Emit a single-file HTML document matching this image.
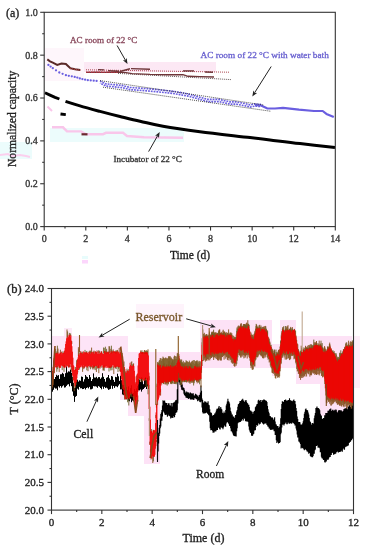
<!DOCTYPE html>
<html><head><meta charset="utf-8"><style>
html,body{margin:0;padding:0;background:#fff;}
svg{display:block;font-family:"Liberation Serif",serif;will-change:transform;}
</style></head><body>
<svg width="365" height="550" viewBox="0 0 365 550">
<rect x="45" y="48" width="39" height="33" fill="#fef6fb"/>
<rect x="84" y="62" width="132" height="10" fill="#fce8f4"/>
<rect x="50" y="128" width="134" height="14" fill="#ecfcfc"/>
<rect x="0" y="142" width="32" height="17" fill="#ecfcfc"/>
<polyline points="0,155 8,154 12,156 20,155 26,156 30,157" fill="none" stroke="#fbd0ee" stroke-width="2"/>
<polyline points="52,127.3 63,127.3 67,131.4 81,131.4 86,134.2 103,134.2 106,132.8 123,132.8 127,136 144,137.3 183,137.7" fill="none" stroke="#f9c6ea" stroke-width="2.4"/>
<rect x="82" y="256" width="6" height="3" fill="#e8fcfc"/><rect x="82" y="260" width="6" height="3.5" fill="#fcd6fc"/>
<line x1="47.5" y1="106.5" x2="52" y2="111" stroke="#f9c6ea" stroke-width="2"/>
<line x1="81.5" y1="134.3" x2="87.5" y2="134.3" stroke="#6a2a30" stroke-width="2.2"/>
<polyline points="47.3,59.4 50,61.4 52.8,62.7 57.2,64.9 61.5,63.6 65.9,64.0 68,66 70.3,68.2 75,69.2 80.2,69.9" fill="none" stroke="#5a2a28" stroke-width="2"/>
<polyline points="70,68.6 80.5,70.2" fill="none" stroke="#b03a3a" stroke-width="1.2" stroke-dasharray="1 1"/>
<line x1="86" y1="69.8" x2="229" y2="72.2" stroke="#a0303a" stroke-width="0.9" stroke-dasharray="1 1"/>
<line x1="118" y1="73.4" x2="231" y2="79.6" stroke="#3a2a2a" stroke-width="0.8" stroke-dasharray="1 1"/>
<polyline points="86,72.4 96,72.2 104,72.4 118,72.0 126,72.6 132,73.6 150,74.4 168,74.8 183,74.6 188,76.3 200,76.6 214,77.0" fill="none" stroke="#6e3538" stroke-width="1.4"/>
<polyline points="86,72.2 118,72.0" fill="none" stroke="#c03040" stroke-width="1.3" stroke-dasharray="1.5 1"/>
<line x1="98" y1="69.6" x2="104" y2="69.9" stroke="#6e3538" stroke-width="1.4"/>
<line x1="108" y1="70.6" x2="119" y2="71.2" stroke="#6e3538" stroke-width="1.4"/>
<line x1="120" y1="71.5" x2="130" y2="68.8" stroke="#6e3538" stroke-width="1.4"/>
<line x1="131" y1="68.6" x2="150" y2="69.2" stroke="#6e3538" stroke-width="1.4"/>
<line x1="183" y1="70.9" x2="194" y2="70.9" stroke="#6e3538" stroke-width="1.4"/>
<line x1="205" y1="72.0" x2="213" y2="72.2" stroke="#6e3538" stroke-width="1.4"/>
<circle cx="48.4" cy="64.9" r="1.15" fill="#6a5ee0"/>
<circle cx="50.6" cy="66.6" r="1.15" fill="#6a5ee0"/>
<circle cx="52.8" cy="68.2" r="1.15" fill="#6a5ee0"/>
<circle cx="56.0" cy="70.3" r="1.15" fill="#6a5ee0"/>
<circle cx="59.3" cy="72.5" r="1.15" fill="#6a5ee0"/>
<circle cx="62.6" cy="73.8" r="1.15" fill="#6a5ee0"/>
<circle cx="65.9" cy="75.2" r="1.15" fill="#6a5ee0"/>
<circle cx="68.8" cy="75.8" r="1.15" fill="#6a5ee0"/>
<circle cx="71.8" cy="76.3" r="1.15" fill="#6a5ee0"/>
<circle cx="74.7" cy="76.9" r="1.15" fill="#6a5ee0"/>
<circle cx="77.3" cy="77.6" r="1.15" fill="#6a5ee0"/>
<circle cx="79.8" cy="78.4" r="1.15" fill="#6a5ee0"/>
<circle cx="82.4" cy="79.1" r="1.15" fill="#6a5ee0"/>
<circle cx="85.1" cy="79.7" r="1.15" fill="#6a5ee0"/>
<circle cx="87.8" cy="80.2" r="1.15" fill="#6a5ee0"/>
<circle cx="90.7" cy="80.4" r="1.15" fill="#6a5ee0"/>
<circle cx="93.7" cy="80.7" r="1.15" fill="#6a5ee0"/>
<circle cx="96.6" cy="80.9" r="1.15" fill="#6a5ee0"/>
<polyline points="100.0,80.9 106.0,83.9 122.0,85.4 130.0,87.4 150.0,88.9 170.0,90.9 180.0,92.4 188.0,93.9 197.0,96.4 208.0,99.4 219.0,99.4 230.0,101.9 236.0,101.9 245.0,103.6 250.0,104.9 255.0,103.9 261.0,104.4" fill="none" stroke="#6a5ee0" stroke-width="1.6" stroke-dasharray="1.8 1.0"/>
<polyline points="100.0,83.1 106.0,86.1 122.0,87.6 130.0,89.6 150.0,91.1 170.0,93.1 180.0,94.6 188.0,96.1 197.0,98.6 208.0,101.6 219.0,101.6 230.0,104.1 236.0,104.1 245.0,105.8 250.0,107.1 255.0,106.1 261.0,106.6" fill="none" stroke="#6a5ee0" stroke-width="1.6" stroke-dasharray="1.8 1.0" stroke-dashoffset="1.3"/>
<polyline points="255.0,105.0 261.0,105.5 267.0,108.3 275.0,108.5 283.0,107.8 299.0,109.7 314.0,111.0 322.7,111.0 326.4,113.9 333.8,117.1" fill="none" stroke="#6a5ee0" stroke-width="2.2" stroke-linejoin="round"/>
<line x1="100" y1="80.6" x2="263.6" y2="105.0" stroke="#222" stroke-width="0.8" stroke-dasharray="1 1"/>
<line x1="103" y1="87.2" x2="271" y2="111.3" stroke="#222" stroke-width="0.8" stroke-dasharray="1 1"/>
<polyline points="45,92.8 50,95.1 55,97.3 59.4,99" fill="none" stroke="#000" stroke-width="2.9"/>
<line x1="60.5" y1="114" x2="65.8" y2="114.6" stroke="#000" stroke-width="2.8"/>
<path d="M65.5,101.4 C67.9,102.2 74.2,104.2 80.0,105.9 C85.8,107.6 93.3,109.6 100.0,111.4 C106.7,113.2 113.3,114.9 120.0,116.5 C126.7,118.1 132.8,119.6 140.0,121.2 C147.2,122.8 153.0,124.5 163.0,126.3 C173.0,128.1 185.5,129.9 200.0,131.8 C214.5,133.7 238.3,136.2 250.0,137.6 C261.7,139.0 261.7,139.0 270.0,140.0 C278.3,141.0 289.2,142.4 300.0,143.6 C310.8,144.8 329.2,146.8 335.0,147.4" fill="none" stroke="#000" stroke-width="3.0"/>
<text x="70" y="42.5" font-size="9.1" fill="#8a4a5e" stroke="#8a4a5e" stroke-width="0.32">AC room of 22 °C</text>
<line x1="117.1" y1="45.5" x2="125.3" y2="60.0" stroke="#222" stroke-width="1.0"/>
<polygon points="127.5,63.9 122.9,60.2 125.4,60.2 126.7,58.0" fill="#222"/>
<text x="200.5" y="57.6" font-size="9.25" fill="#6a62d0" stroke="#6a62d0" stroke-width="0.32">AC room of 22 °C with water bath</text>
<line x1="271.2" y1="66.5" x2="254.7" y2="92.6" stroke="#222" stroke-width="1.0"/>
<polygon points="252.3,96.4 253.4,90.6 254.6,92.8 257.1,92.9" fill="#222"/>
<text x="113.5" y="162.3" font-size="9.15" fill="#333" stroke="#333" stroke-width="0.32">Incubator of 22 °C</text>
<line x1="148.6" y1="151.6" x2="157.5" y2="135.9" stroke="#222" stroke-width="1.0"/>
<polygon points="159.7,132.0 158.9,137.9 157.6,135.7 155.1,135.7" fill="#222"/>
<rect x="44.2" y="12.3" width="291.1" height="214.29999999999998" fill="none" stroke="#333" stroke-width="1.1"/>
<line x1="40.2" y1="226.60" x2="44.2" y2="226.60" stroke="#333" stroke-width="1.1"/>
<text x="37.7" y="230.00" text-anchor="end" font-size="10" fill="#333" stroke="#333" stroke-width="0.32">0.0</text>
<line x1="42.2" y1="205.17" x2="44.2" y2="205.17" stroke="#333" stroke-width="1.1"/>
<line x1="40.2" y1="183.74" x2="44.2" y2="183.74" stroke="#333" stroke-width="1.1"/>
<text x="37.7" y="187.14" text-anchor="end" font-size="10" fill="#333" stroke="#333" stroke-width="0.32">0.2</text>
<line x1="42.2" y1="162.31" x2="44.2" y2="162.31" stroke="#333" stroke-width="1.1"/>
<line x1="40.2" y1="140.88" x2="44.2" y2="140.88" stroke="#333" stroke-width="1.1"/>
<text x="37.7" y="144.28" text-anchor="end" font-size="10" fill="#333" stroke="#333" stroke-width="0.32">0.4</text>
<line x1="42.2" y1="119.45" x2="44.2" y2="119.45" stroke="#333" stroke-width="1.1"/>
<line x1="40.2" y1="98.02" x2="44.2" y2="98.02" stroke="#333" stroke-width="1.1"/>
<text x="37.7" y="101.42" text-anchor="end" font-size="10" fill="#333" stroke="#333" stroke-width="0.32">0.6</text>
<line x1="42.2" y1="76.59" x2="44.2" y2="76.59" stroke="#333" stroke-width="1.1"/>
<line x1="40.2" y1="55.16" x2="44.2" y2="55.16" stroke="#333" stroke-width="1.1"/>
<text x="37.7" y="58.56" text-anchor="end" font-size="10" fill="#333" stroke="#333" stroke-width="0.32">0.8</text>
<line x1="42.2" y1="33.73" x2="44.2" y2="33.73" stroke="#333" stroke-width="1.1"/>
<line x1="40.2" y1="12.30" x2="44.2" y2="12.30" stroke="#333" stroke-width="1.1"/>
<text x="37.7" y="15.70" text-anchor="end" font-size="10" fill="#333" stroke="#333" stroke-width="0.32">1.0</text>
<line x1="44.20" y1="226.6" x2="44.20" y2="230.6" stroke="#333" stroke-width="1.1"/>
<text x="44.20" y="242.1" text-anchor="middle" font-size="10" fill="#333" stroke="#333" stroke-width="0.32">0</text>
<line x1="64.99" y1="226.6" x2="64.99" y2="228.6" stroke="#333" stroke-width="1.1"/>
<line x1="85.79" y1="226.6" x2="85.79" y2="230.6" stroke="#333" stroke-width="1.1"/>
<text x="85.79" y="242.1" text-anchor="middle" font-size="10" fill="#333" stroke="#333" stroke-width="0.32">2</text>
<line x1="106.58" y1="226.6" x2="106.58" y2="228.6" stroke="#333" stroke-width="1.1"/>
<line x1="127.37" y1="226.6" x2="127.37" y2="230.6" stroke="#333" stroke-width="1.1"/>
<text x="127.37" y="242.1" text-anchor="middle" font-size="10" fill="#333" stroke="#333" stroke-width="0.32">4</text>
<line x1="148.16" y1="226.6" x2="148.16" y2="228.6" stroke="#333" stroke-width="1.1"/>
<line x1="168.96" y1="226.6" x2="168.96" y2="230.6" stroke="#333" stroke-width="1.1"/>
<text x="168.96" y="242.1" text-anchor="middle" font-size="10" fill="#333" stroke="#333" stroke-width="0.32">6</text>
<line x1="189.75" y1="226.6" x2="189.75" y2="228.6" stroke="#333" stroke-width="1.1"/>
<line x1="210.54" y1="226.6" x2="210.54" y2="230.6" stroke="#333" stroke-width="1.1"/>
<text x="210.54" y="242.1" text-anchor="middle" font-size="10" fill="#333" stroke="#333" stroke-width="0.32">8</text>
<line x1="231.34" y1="226.6" x2="231.34" y2="228.6" stroke="#333" stroke-width="1.1"/>
<line x1="252.13" y1="226.6" x2="252.13" y2="230.6" stroke="#333" stroke-width="1.1"/>
<text x="252.13" y="242.1" text-anchor="middle" font-size="10" fill="#333" stroke="#333" stroke-width="0.32">10</text>
<line x1="272.92" y1="226.6" x2="272.92" y2="228.6" stroke="#333" stroke-width="1.1"/>
<line x1="293.71" y1="226.6" x2="293.71" y2="230.6" stroke="#333" stroke-width="1.1"/>
<text x="293.71" y="242.1" text-anchor="middle" font-size="10" fill="#333" stroke="#333" stroke-width="0.32">12</text>
<line x1="314.51" y1="226.6" x2="314.51" y2="228.6" stroke="#333" stroke-width="1.1"/>
<line x1="335.30" y1="226.6" x2="335.30" y2="230.6" stroke="#333" stroke-width="1.1"/>
<text x="335.30" y="242.1" text-anchor="middle" font-size="10" fill="#333" stroke="#333" stroke-width="0.32">14</text>
<text x="190" y="258.6" text-anchor="middle" font-size="11.5" fill="#222" stroke="#222" stroke-width="0.32">Time (d)</text>
<text transform="translate(16.4,118.9) rotate(-90)" text-anchor="middle" font-size="11.6" fill="#222" stroke="#222" stroke-width="0.32">Normalized capacity</text>
<text x="6" y="17.3" font-size="12" fill="#222" stroke="#222" stroke-width="0.32">(a)</text>
<rect x="52" y="336" width="76" height="16" fill="#fde4f7"/>
<rect x="52" y="352" width="76" height="16" fill="#fde4f7"/>
<rect x="52" y="368" width="68" height="8" fill="#fef0fa"/>
<rect x="120" y="360" width="8" height="40" fill="#fde4f7"/>
<rect x="128" y="352" width="16" height="64" fill="#fde2f6"/>
<rect x="144" y="352" width="16" height="112" fill="#fde2f6"/>
<rect x="160" y="352" width="40" height="48" fill="#fde2f6"/>
<rect x="200" y="320" width="72" height="48" fill="#fde2f6"/>
<rect x="272" y="344" width="8" height="32" fill="#fde2f6"/>
<rect x="280" y="320" width="16" height="48" fill="#fde2f6"/>
<rect x="296" y="336" width="24" height="48" fill="#fde2f6"/>
<rect x="320" y="336" width="32" height="48" fill="#fde2f6"/>
<rect x="320" y="384" width="32" height="32" fill="#fde2f6"/>
<rect x="136" y="304" width="48" height="24" fill="#fef3fb"/>
<rect x="354" y="336" width="6" height="52" fill="#fdeef9"/>
<rect x="64" y="328" width="8" height="8" fill="#fdeaf8"/>
<path d="M52.50 376.0V391.7M53.50 375.0V389.8M54.50 379.0V387.7M55.50 377.0V388.6M56.50 374.8V388.5M57.50 375.7V390.3M58.50 375.1V386.4M59.50 378.9V387.6M60.50 374.3V386.0M61.50 374.2V387.7M62.50 372.8V386.3M63.50 373.8V385.4M64.50 376.8V387.6M65.50 373.2V387.3M66.50 366.5V385.9M67.50 372.5V384.7M68.50 371.3V384.2M69.50 371.6V386.4M70.50 369.6V383.1M71.50 372.8V386.2M72.50 376.7V391.5M73.50 382.9V395.8M74.50 388.0V401.9M75.50 384.0V396.8M76.50 381.4V395.9M77.50 379.7V388.7M78.50 381.6V389.7M79.50 380.3V386.9M80.50 380.8V388.3M81.50 376.5V388.2M82.50 376.9V389.1M83.50 381.6V389.0M84.50 379.3V388.2M85.50 375.0V389.5M86.50 376.5V388.0M87.50 377.1V387.4M88.50 378.9V388.4M89.50 375.0V386.9M90.50 377.2V389.4M91.50 381.0V389.3M92.50 379.1V388.7M93.50 373.4V386.1M94.50 377.5V386.4M95.50 377.6V386.3M96.50 376.8V386.7M97.50 378.4V387.8M98.50 377.1V386.1M99.50 377.1V386.8M100.50 378.8V388.0M101.50 377.5V389.3M102.50 373.2V386.6M103.50 376.8V388.8M104.50 379.0V386.9M105.50 381.7V388.1M106.50 377.8V387.6M107.50 377.2V388.5M108.50 375.0V389.9M109.50 378.3V389.4M110.50 379.8V388.9M111.50 376.0V385.7M112.50 376.5V388.8M113.50 379.9V386.0M114.50 381.9V387.9M115.50 376.8V386.3M116.50 377.2V386.4M117.50 373.7V387.2M118.50 376.3V385.6M119.50 380.9V384.2M120.50 375.8V389.4M121.50 380.2V389.4M122.50 384.5V394.5M123.50 384.9V395.0M124.50 387.6V394.7M125.50 384.7V395.9M126.50 387.2V399.3M127.50 390.2V398.2M128.50 386.4V400.7M129.50 391.9V401.3M130.50 388.1V398.7M131.50 385.3V402.2M132.50 393.4V400.6M133.50 392.9V401.3M134.50 389.1V399.8M135.50 390.9V400.8M136.50 388.4V397.1M137.50 386.1V392.0M138.50 379.1V390.3M139.50 379.5V390.4M140.50 382.0V389.5M141.50 377.4V391.6M142.50 381.0V389.7M143.50 384.2V389.0M144.50 378.6V387.8M145.50 377.3V387.0M146.50 380.0V389.0M147.50 377.8V386.5M148.50 384.5V388.9" stroke="#000" stroke-width="1.0" fill="none"/>
<path d="M157.50 439.8V460.2M158.05 437.9V451.4M158.60 432.7V443.4M159.15 427.7V436.1M159.70 424.9V433.5M160.25 418.5V428.2M160.80 414.1V426.4M161.35 412.5V420.4M161.90 410.1V420.7M162.45 405.5V416.4M163.00 400.3V411.3M163.55 401.9V411.6M164.10 400.9V412.4M164.65 400.6V413.4M165.20 402.4V415.0M165.75 402.9V414.4M166.30 403.1V414.8M166.85 403.1V413.8M167.40 405.3V416.7M167.95 404.9V416.0M168.50 403.2V414.7M169.05 403.3V414.5M169.60 405.2V416.0M170.15 405.6V416.4M170.70 406.2V418.4M171.25 403.0V416.5M171.80 406.4V417.8M172.35 406.5V417.4M172.90 402.9V417.9M173.45 405.0V416.2M174.00 402.2V416.1M174.55 405.0V417.2M175.10 401.4V414.9M175.65 400.3V413.1M176.20 401.7V412.4M176.75 399.7V412.3M177.30 389.3V410.2M177.85 374.5V403.6M178.40 372.0V381.6M178.95 373.7V378.7M179.50 378.5V382.5M180.05 378.2V384.7M180.60 380.0V384.8M181.15 384.1V387.3M181.70 382.8V389.8M182.25 384.5V388.6M182.80 387.7V390.2M183.35 387.4V390.6M183.90 388.0V393.7M184.45 389.8V395.0M185.00 391.6V395.8M185.55 393.8V396.2M186.10 392.7V397.7M186.65 391.5V395.4M187.20 394.2V397.9M187.75 392.2V396.0M188.30 394.1V398.7M188.85 392.4V399.0M189.40 394.9V398.0M189.95 393.5V396.5M190.50 392.4V399.6M191.05 393.3V398.9M191.60 393.5V399.5M192.15 394.9V397.8M192.70 393.6V399.4M193.25 393.3V397.9M193.80 395.2V400.1M194.35 395.5V398.3M194.90 396.6V398.2M195.45 393.7V398.6M196.00 395.3V398.0M196.55 394.5V399.2M197.10 396.0V398.5M197.65 395.4V401.2M198.20 397.7V400.6M198.75 396.8V400.5M199.30 395.1V398.7M199.85 394.8V401.9M200.40 392.4V402.2M200.95 385.4V400.8M201.50 390.7V401.6M202.05 398.6V407.4M202.60 400.0V412.2M203.15 402.4V413.4M203.70 402.5V412.7M204.25 402.8V413.5M204.80 401.3V412.7M205.35 403.4V413.3M205.90 401.7V413.0M206.45 403.5V412.6M207.00 402.8V412.2M207.55 402.8V413.4M208.10 401.2V413.9M208.65 404.7V415.1M209.20 405.3V415.6M209.75 409.3V421.8M210.30 412.3V428.2M210.85 412.7V430.2M211.40 412.8V430.1M211.95 414.8V429.3M212.50 415.9V430.7M213.05 415.9V432.7M213.60 414.9V429.9M214.15 415.0V432.5M214.70 413.5V430.1M215.25 415.0V431.3M215.80 412.2V431.6M216.35 410.5V430.2M216.90 408.7V428.9M217.45 409.5V430.0M218.00 408.4V427.6M218.55 407.5V427.3M219.10 406.1V428.0M219.65 408.8V429.3M220.20 408.5V429.6M220.75 407.1V426.8M221.30 408.7V427.2M221.85 409.5V427.7M222.40 412.7V428.0M222.95 413.2V429.2M223.50 415.3V427.4M224.05 411.6V425.5M224.60 414.1V425.1M225.15 413.0V426.5M225.70 410.1V426.7M226.25 405.6V423.6M226.80 403.7V422.3M227.35 401.6V422.3M227.90 398.7V421.6M228.45 401.2V423.3M229.00 401.8V424.3M229.55 403.5V425.9M230.10 407.5V425.7M230.65 411.1V428.2M231.20 412.4V431.2M231.75 415.5V430.8M232.30 414.5V432.2M232.85 416.6V433.5M233.40 416.8V435.1M233.95 416.6V436.0M234.50 418.2V433.8M235.05 418.0V436.3M235.60 414.9V435.6M236.15 415.6V436.4M236.70 411.4V431.3M237.25 409.9V428.3M237.80 406.8V423.3M238.35 404.2V420.7M238.90 403.9V422.5M239.45 403.1V421.7M240.00 401.0V421.9M240.55 403.2V421.8M241.10 401.0V420.7M241.65 399.7V420.7M242.20 401.4V418.5M242.75 398.8V419.1M243.30 400.6V420.4M243.85 400.6V418.0M244.40 402.0V418.3M244.95 402.1V418.9M245.50 400.6V421.3M246.05 400.1V419.2M246.60 401.7V421.4M247.15 403.0V421.5M247.70 403.6V421.0M248.25 405.5V422.1M248.80 404.8V426.4M249.35 407.0V429.7M249.90 410.2V431.6M250.45 411.8V432.8M251.00 410.7V432.9M251.55 413.3V435.5M252.10 411.7V436.1M252.65 415.2V435.6M253.20 413.7V434.3M253.75 412.1V433.8M254.30 410.9V430.4M254.85 410.8V430.5M255.40 407.2V429.9M255.95 406.4V427.1M256.50 405.6V424.6M257.05 403.9V424.9M257.60 404.2V425.7M258.15 400.5V423.2M258.70 399.7V422.8M259.25 402.1V424.6M259.80 400.9V422.5M260.35 399.9V423.7M260.90 402.5V422.0M261.45 402.0V421.7M262.00 399.9V422.5M262.55 401.7V422.9M263.10 400.5V424.0M263.65 399.6V424.5M264.20 399.6V423.8M264.75 400.1V422.7M265.30 401.1V423.6M265.85 400.6V423.6M266.40 401.1V422.8M266.95 402.0V425.1M267.50 406.0V425.6M268.05 409.2V426.7M268.60 411.7V426.1M269.15 413.3V428.4M269.70 416.0V426.9M270.25 416.0V429.4M270.80 417.0V429.9M271.35 419.6V427.2M271.90 417.4V429.8M272.45 417.6V427.9M273.00 419.8V429.5M273.55 419.8V428.8M274.10 418.5V431.2M274.65 417.3V429.9M275.20 421.4V435.1M275.75 424.3V435.1M276.30 424.6V440.3M276.85 426.5V442.9M277.40 426.0V441.6M277.95 425.9V441.7M278.50 427.7V443.6M279.05 428.0V442.5M279.60 426.8V442.9M280.15 424.1V442.0M280.70 418.2V434.3M281.25 408.9V432.8M281.80 404.1V427.6M282.35 401.2V424.7M282.90 401.7V424.4M283.45 401.8V422.7M284.00 402.0V425.5M284.55 399.9V423.9M285.10 401.7V423.5M285.65 399.5V422.4M286.20 400.5V421.7M286.75 401.6V424.3M287.30 400.7V424.3M287.85 400.3V422.5M288.40 400.0V422.6M288.95 401.1V423.5M289.50 398.3V423.7M290.05 399.9V423.0M290.60 400.5V421.9M291.15 401.1V423.8M291.70 400.7V423.6M292.25 401.2V422.5M292.80 401.4V421.5M293.35 400.3V423.2M293.90 399.4V423.0M294.45 402.0V424.1M295.00 400.9V425.5M295.55 404.3V424.7M296.10 407.9V428.4M296.65 411.1V430.6M297.20 416.5V434.4M297.75 419.1V437.6M298.30 422.3V437.2M298.85 422.1V441.4M299.40 421.9V441.8M299.95 422.3V442.8M300.50 424.6V444.1M301.05 425.0V448.5M301.60 424.6V447.3M302.15 424.7V447.7M302.70 423.3V448.2M303.25 421.2V446.5M303.80 418.1V449.3M304.35 413.7V450.3M304.90 411.7V449.1M305.45 409.3V449.6M306.00 408.4V448.4M306.55 410.6V450.2M307.10 410.1V451.4M307.65 410.5V450.7M308.20 412.6V452.2M308.75 414.6V453.7M309.30 418.0V452.1M309.85 421.2V453.1M310.40 422.0V456.0M310.95 423.2V456.7M311.50 424.8V453.8M312.05 426.0V457.2M312.60 423.1V457.3M313.15 424.7V455.9M313.70 423.5V453.3M314.25 418.3V453.8M314.80 415.5V450.2M315.35 412.9V449.5M315.90 408.0V445.0M316.45 407.7V446.1M317.00 406.5V444.9M317.55 407.9V445.5M318.10 407.9V447.7M318.65 408.3V446.6M319.20 409.0V447.4M319.75 410.2V448.3M320.30 413.7V452.2M320.85 415.3V452.1M321.40 415.7V456.8M321.95 420.8V458.2M322.50 418.8V457.6M323.05 419.2V459.2M323.60 418.1V460.0M324.15 417.9V458.9M324.70 415.3V462.2M325.25 417.0V462.4M325.80 413.0V460.0M326.35 413.1V461.6M326.90 413.8V459.6M327.45 412.9V458.6M328.00 410.7V459.9M328.55 411.7V458.8M329.10 410.5V457.4M329.65 409.3V456.0M330.20 410.9V457.0M330.75 408.5V453.9M331.30 411.1V455.1M331.85 411.0V453.1M332.40 409.7V452.7M332.95 411.1V452.6M333.50 410.8V454.7M334.05 409.8V453.0M334.60 411.5V454.2M335.15 410.6V452.1M335.70 409.6V453.8M336.25 409.8V450.8M336.80 411.8V452.2M337.35 412.4V451.4M337.90 413.0V450.5M338.45 410.8V452.4M339.00 410.1V450.9M339.55 412.2V452.0M340.10 410.3V449.8M340.65 410.4V451.7M341.20 410.2V449.3M341.75 411.2V450.7M342.30 411.7V451.8M342.85 411.4V449.6M343.40 410.8V448.6M343.95 408.9V448.5M344.50 410.9V449.7M345.05 408.2V447.3M345.60 408.4V446.8M346.15 408.3V446.3M346.70 407.4V446.5M347.25 409.4V445.9M347.80 409.3V445.4M348.35 406.6V445.4M348.90 408.7V442.8M349.45 405.1V442.7M350.00 406.6V442.0M350.55 407.6V441.5M351.10 406.6V438.5M351.65 405.2V440.2M352.20 403.1V436.8M352.75 405.1V438.8" stroke="#000" stroke-width="1.1" fill="none"/>
<path d="M54.40 370.1V372.9M56.80 365.5V371.8M57.40 365.5V369.2M62.20 365.5V370.1M64.00 365.5V371.9M64.60 365.0V367.2M65.20 365.0V366.7M68.20 365.0V366.7M69.40 365.0V367.5M70.00 365.0V366.9M71.80 368.2V372.1M76.60 380.2V381.9M77.80 370.6V372.3M79.60 366.6V369.6M83.80 365.9V369.2M84.40 365.9V367.9M86.80 365.8V370.3M89.80 365.8V367.4M90.40 365.7V369.3M94.60 365.6V367.6M95.20 365.6V370.1M98.20 365.5V367.5M104.20 365.6V370.8M109.00 365.7V371.5M109.60 365.7V368.1M110.20 365.8V368.3M110.80 365.8V370.5M111.40 365.8V367.8M112.00 365.8V370.2M116.20 365.9V369.1M118.00 365.9V372.0M118.60 366.0V368.8M120.40 369.5V371.1M125.20 396.6V399.4M127.60 398.2V402.3M128.80 398.9V405.5M130.60 391.7V395.0M136.60 405.0V406.8M140.20 377.3V381.8M148.00 384.0V394.3M149.80 441.6V444.8M153.40 455.2V461.4M157.00 420.0V421.9M157.60 400.7V405.1M167.20 380.6V385.6M170.20 380.4V382.3M172.00 380.3V384.1M175.60 380.1V382.7M176.20 380.0V384.3M179.20 374.1V376.8M180.40 378.2V385.3M181.00 378.3V382.9M186.40 379.0V382.1M188.80 379.0V381.4M189.40 379.0V382.7M190.60 379.0V381.3M193.60 379.0V385.5M194.20 379.0V383.2M197.80 379.0V380.9M198.40 379.0V382.6M199.60 379.0V384.3" stroke="#6b6428" stroke-width="0.9" fill="none"/>
<path d="M52.00 385.0V388.8M52.60 381.8V387.3M53.20 378.6V385.1M55.60 365.5V367.1M59.20 365.5V372.1M71.20 365.8V369.8M73.00 377.0V379.9M74.20 382.4V391.1M75.40 383.2V387.8M76.00 382.0V384.8M82.60 365.9V371.9M88.00 365.8V371.2M92.20 365.7V368.3M92.80 365.7V369.5M93.40 365.7V368.0M94.00 365.7V369.4M96.40 365.6V372.0M97.60 365.6V368.6M98.80 365.5V373.2M100.00 365.5V368.7M101.80 365.5V367.7M103.00 365.6V370.5M103.60 365.6V370.2M104.80 365.6V367.7M113.80 365.8V374.1M115.60 365.9V368.4M119.80 366.0V371.4M122.20 382.7V388.9M124.00 391.3V395.5M124.60 394.0V399.5M129.40 395.8V399.4M130.00 391.0V396.5M131.20 392.5V396.9M135.40 406.7V408.9M136.00 407.7V409.8M137.80 395.5V401.6M139.60 377.2V378.9M142.00 377.8V382.2M142.60 377.9V381.2M144.40 378.4V380.6M145.60 378.7V380.4M146.20 378.8V387.0M149.20 418.2V420.8M150.40 449.3V452.4M151.00 457.0V459.5M152.80 455.7V463.0M156.40 440.0V442.1M160.60 389.1V395.5M161.80 381.0V384.4M164.80 380.8V384.3M166.00 380.7V384.8M167.80 380.6V382.5M170.80 380.4V384.0M171.40 380.3V383.3M175.00 380.1V384.0M181.60 378.5V385.1M182.20 378.6V382.1M184.00 379.0V381.5M184.60 379.0V381.9M190.00 379.0V383.9M191.20 379.0V382.6M191.80 379.0V380.9M193.00 379.0V383.0M197.20 379.0V383.4" stroke="#84501c" stroke-width="0.9" fill="none"/>
<path d="M52.00 377.0V373.8M55.60 354.0V348.9M57.40 354.0V345.7M62.20 354.0V351.4M64.00 354.0V351.2M67.60 337.5V331.4M69.40 336.7V332.9M70.60 336.2V333.4M75.40 371.1V367.0M79.00 355.5V349.1M80.20 354.0V351.1M81.40 354.0V352.4M82.60 353.9V351.7M85.00 353.9V349.9M86.20 353.8V351.7M86.80 353.8V351.0M89.20 353.8V351.5M90.40 353.7V350.7M95.80 353.6V352.0M98.80 353.5V350.2M99.40 353.5V350.9M101.20 353.5V351.2M103.60 353.5V347.5M104.20 353.5V347.9M104.80 353.5V351.3M105.40 353.5V346.7M106.60 353.5V348.8M108.40 353.5V351.8M109.60 353.5V346.4M111.40 353.5V345.7M112.60 353.5V351.4M116.80 353.5V350.2M121.60 353.5V350.9M124.00 366.2V361.5M125.80 373.0V371.2M127.00 373.0V368.7M128.80 373.0V369.1M131.20 365.6V361.9M132.40 366.2V364.3M133.60 366.8V363.3M142.00 354.0V350.3M143.80 354.0V351.7M145.00 354.0V350.5M146.80 354.0V350.5M147.40 354.7V350.9M151.00 433.0V431.4M151.60 432.9V429.1M153.40 432.4V429.9M157.00 386.5V383.7M162.40 367.5V365.8M163.00 367.5V365.3M163.60 367.5V364.1M164.20 367.5V363.3M166.00 367.5V365.8M172.60 367.5V360.5M173.80 367.5V362.5M176.80 365.9V363.3M179.80 365.1V362.6M181.00 366.1V363.3M181.60 366.6V362.1M183.40 368.2V364.5M184.60 368.5V366.5M185.80 368.5V366.5M187.60 368.5V365.6M191.20 368.5V366.5M191.80 368.5V365.1M195.40 368.5V364.9M197.80 368.5V366.1" stroke="#6b6428" stroke-width="0.9" fill="none"/>
<path d="M56.80 354.0V351.4M58.00 354.0V348.6M60.40 354.0V349.7M67.00 337.8V329.5M71.80 344.0V341.2M76.60 365.4V360.3M77.20 361.8V359.7M78.40 356.4V347.2M89.80 353.8V350.7M91.00 353.7V351.6M91.60 353.7V347.6M93.40 353.7V351.7M94.00 353.7V350.6M95.20 353.6V351.4M97.00 353.6V350.4M101.80 353.5V351.5M106.00 353.5V350.8M107.20 353.5V351.7M109.00 353.5V346.2M110.80 353.5V348.8M112.00 353.5V350.2M113.20 353.5V349.4M114.40 353.5V351.7M115.60 353.5V350.6M117.40 353.5V349.9M119.20 353.5V348.0M121.00 353.2V346.4M122.20 356.7V353.0M122.80 359.9V356.5M131.80 365.9V361.4M136.00 383.8V382.1M136.60 379.5V375.5M140.80 354.0V350.4M141.40 354.0V351.6M142.60 354.0V352.2M143.20 354.0V352.4M144.40 354.0V350.0M145.60 354.0V351.1M146.20 354.0V350.4M148.00 355.9V349.3M149.20 380.4V376.2M154.00 432.3V429.9M155.80 418.1V414.9M156.40 407.7V403.8M157.60 367.0V362.2M159.40 367.0V363.9M166.60 367.5V364.4M168.40 367.5V364.2M169.00 367.5V361.3M171.40 367.5V362.5M173.20 367.5V365.2M180.40 365.6V360.4M182.20 367.1V362.5M182.80 367.6V364.1M184.00 368.5V363.9M188.20 368.5V365.6M190.60 368.5V362.7M193.00 368.5V366.4M196.00 368.5V362.5M197.20 368.5V364.4" stroke="#84501c" stroke-width="0.9" fill="none"/>
<path d="M158.00 362.2V383.4M158.55 362.8V383.0M159.10 360.9V383.1M159.65 360.0V385.5M160.20 358.2V383.2M160.75 358.1V382.7M161.30 360.7V382.5M161.85 358.6V382.7M162.40 358.9V382.8M162.95 356.6V382.7M163.50 357.6V384.1M164.05 358.2V381.6M164.60 358.6V382.0M165.15 357.9V381.7M165.70 357.5V383.9M166.25 357.9V383.7M166.80 358.9V383.0M167.35 358.4V382.2M167.90 358.3V383.7M168.45 356.2V384.3M169.00 357.2V381.1M169.55 356.3V381.8M170.10 356.0V382.0M170.65 357.4V383.0M171.20 357.5V384.1M171.75 358.3V381.6M172.30 359.1V383.1M172.85 359.5V383.2M173.40 359.5V381.0M173.95 356.7V384.0M174.50 355.6V383.8M175.05 359.2V380.6M175.60 356.1V383.7M176.15 358.9V383.4M176.70 356.5V382.7M177.25 353.3V379.4M177.80 353.1V382.6M178.35 355.4V381.1M178.90 354.1V379.7M179.45 358.3V379.9M180.00 359.1V379.8M180.55 361.1V379.5M181.10 359.7V379.7M181.65 359.5V382.1M182.20 363.0V379.8M182.75 362.2V382.5M183.30 360.8V380.3M183.85 363.5V382.0M184.40 362.5V382.2M184.95 362.3V380.3M185.50 362.7V382.1M186.05 360.2V380.3M186.60 361.2V382.5M187.15 361.2V381.7M187.70 361.7V380.5M188.25 362.0V382.6M188.80 362.6V380.6M189.35 360.6V380.4M189.90 361.9V381.6M190.45 364.0V380.3M191.00 363.8V382.6M191.55 361.8V379.9M192.10 360.9V382.7M192.65 360.7V381.6M193.20 362.6V379.7M193.75 360.1V381.6M194.30 360.2V381.2M194.85 363.9V380.9M195.40 361.2V379.4M195.95 361.2V380.3M196.50 360.5V381.8M197.05 362.4V381.9M197.60 360.4V380.0M198.15 363.7V379.0M198.70 361.5V382.3M199.25 360.9V379.9M199.80 362.5V380.0M200.35 361.3V380.6" stroke="#7a5a22" stroke-width="0.9" fill="none"/>
<path d="M201.00 367.2V387.3M201.55 354.7V372.9M202.10 342.3V366.0M202.65 338.1V361.2M203.20 333.9V360.7M203.75 333.9V360.6M204.30 332.8V358.5M204.85 336.3V360.1M205.40 335.2V361.6M205.95 334.3V358.0M206.50 336.4V360.6M207.05 335.6V360.6M207.60 337.2V359.1M208.15 336.0V359.0M208.70 334.9V360.4M209.25 333.5V357.3M209.80 334.2V360.4M210.35 334.7V358.9M210.90 334.9V357.4M211.45 332.4V358.0M212.00 335.6V357.2M212.55 331.9V356.5M213.10 331.4V357.3M213.65 334.1V360.0M214.20 332.8V357.5M214.75 332.4V357.0M215.30 334.8V358.3M215.85 332.0V356.0M216.40 334.5V359.1M216.95 334.6V356.6M217.50 332.9V360.2M218.05 333.0V360.3M218.60 330.6V360.5M219.15 329.8V357.6M219.70 329.5V359.6M220.25 332.7V360.5M220.80 333.2V360.3M221.35 331.8V360.5M221.90 333.2V357.0M222.45 334.5V357.1M223.00 330.7V355.4M223.55 332.3V355.9M224.10 335.0V359.7M224.65 331.5V355.2M225.20 333.3V355.4M225.75 333.6V358.7M226.30 332.2V356.8M226.85 335.6V357.2M227.40 332.7V359.9M227.95 335.1V360.2M228.50 334.5V358.0M229.05 334.5V360.5M229.60 334.2V357.8M230.15 332.4V359.0M230.70 334.9V360.1M231.25 334.3V362.3M231.80 333.1V362.7M232.35 335.3V363.7M232.90 339.0V363.4M233.45 340.0V363.2M234.00 338.2V366.0M234.55 336.7V366.6M235.10 338.2V366.4M235.65 338.9V363.8M236.20 334.6V365.7M236.75 330.8V363.9M237.30 328.8V360.7M237.85 326.4V357.3M238.40 325.5V353.2M238.95 326.5V355.0M239.50 326.4V355.4M240.05 325.6V355.4M240.60 324.2V357.5M241.15 323.1V357.5M241.70 327.1V355.6M242.25 326.6V356.6M242.80 325.6V354.7M243.35 324.1V355.1M243.90 324.0V358.4M244.45 324.1V355.5M245.00 324.5V357.9M245.55 324.7V356.6M246.10 323.5V355.3M246.65 322.6V355.1M247.20 323.4V358.5M247.75 324.6V354.7M248.30 324.4V354.9M248.85 324.9V356.7M249.40 328.7V357.9M249.95 331.9V360.7M250.50 335.8V365.6M251.05 332.6V368.1M251.60 334.5V366.5M252.15 334.6V369.6M252.70 335.0V369.8M253.25 336.3V369.3M253.80 334.3V364.7M254.35 336.1V366.3M254.90 330.8V366.5M255.45 333.0V360.5M256.00 326.1V359.5M256.55 324.6V357.2M257.10 326.5V357.1M257.65 327.1V357.4M258.20 328.5V356.5M258.75 327.4V355.1M259.30 325.2V353.9M259.85 329.0V354.5M260.40 326.9V355.0M260.95 328.0V356.2M261.50 329.4V355.7M262.05 326.9V356.8M262.60 329.0V358.2M263.15 326.9V358.0M263.70 330.4V358.5M264.25 326.1V355.4M264.80 329.6V357.7M265.35 325.9V355.5M265.90 329.5V357.3M266.45 328.7V354.5M267.00 330.2V354.7M267.55 332.2V357.7M268.10 337.2V359.7M268.65 337.5V359.0M269.20 339.1V362.5M269.75 341.4V361.7M270.30 345.0V365.6M270.85 347.4V367.2M271.40 347.3V368.4M271.95 348.8V372.7M272.50 352.4V373.2M273.05 350.5V371.3M273.60 353.1V373.8M274.15 351.2V372.9M274.70 349.9V375.5M275.25 355.3V378.1M275.80 354.4V378.6M276.35 352.1V376.2M276.90 353.5V375.5M277.45 353.1V377.7M278.00 352.6V375.5M278.55 349.8V377.1M279.10 349.9V377.8M279.65 349.2V376.3M280.20 346.6V371.3M280.75 340.6V364.3M281.30 334.7V363.5M281.85 331.1V358.0M282.40 329.0V357.6M282.95 330.0V356.0M283.50 330.9V354.6M284.05 330.0V357.5M284.60 330.6V355.4M285.15 329.5V359.5M285.70 329.4V355.2M286.25 330.7V359.7M286.80 326.5V359.0M287.35 326.3V355.2M287.90 330.0V358.6M288.45 330.9V358.2M289.00 328.6V356.3M289.55 328.9V360.1M290.10 329.3V359.6M290.65 326.9V358.9M291.20 329.7V355.5M291.75 330.2V356.1M292.30 327.0V355.5M292.85 329.3V356.0M293.40 331.0V355.3M293.95 330.1V359.3M294.50 328.9V358.3M295.05 330.4V359.0M295.60 330.7V362.7M296.15 335.6V364.4M296.70 340.1V368.9M297.25 343.4V371.5M297.80 344.3V370.9M298.35 349.1V374.0M298.90 351.7V373.4M299.45 353.3V378.0M300.00 351.6V376.1M300.55 352.8V379.9M301.10 351.9V376.5M301.65 350.2V378.0M302.20 349.5V376.1M302.75 349.6V377.9M303.30 350.4V377.1M303.85 347.4V375.6M304.40 350.0V375.9M304.95 350.4V376.7M305.50 345.8V374.3M306.05 346.7V372.5M306.60 347.3V376.5M307.15 348.6V371.9M307.70 345.7V373.3M308.25 348.9V373.8M308.80 345.0V374.3M309.35 345.3V371.6M309.90 346.9V376.6M310.45 347.7V375.2M311.00 344.3V374.3M311.55 346.7V375.3M312.10 345.5V371.7M312.65 347.9V372.8M313.20 346.7V373.8M313.75 346.4V373.0M314.30 342.2V373.2M314.85 343.6V374.9M315.40 342.6V374.1M315.95 341.9V374.2M316.50 341.0V375.0M317.05 345.2V370.5M317.60 345.0V374.4M318.15 344.4V371.0M318.70 344.8V374.4M319.25 344.5V375.4M319.80 346.3V373.7M320.35 346.5V371.1M320.90 343.4V373.2M321.45 345.4V376.0M322.00 346.9V375.0M322.55 347.7V377.4M323.10 347.5V377.0M323.65 349.4V376.0M324.20 348.7V377.3M324.75 347.0V384.0M325.30 348.5V388.4M325.85 349.4V395.5M326.40 351.6V402.5M326.95 349.4V403.2M327.50 346.5V399.7M328.05 347.4V400.6M328.60 348.5V402.0M329.15 347.2V401.4M329.70 342.6V403.7M330.25 346.7V401.7M330.80 348.9V405.5M331.35 348.7V405.5M331.90 351.2V401.2M332.45 350.9V404.3M333.00 351.9V402.2M333.55 351.9V403.5M334.10 354.5V400.7M334.65 353.0V402.2M335.20 356.2V401.3M335.75 353.4V401.5M336.30 354.7V403.3M336.85 359.7V403.0M337.40 356.7V404.8M337.95 358.4V404.4M338.50 359.5V403.9M339.05 358.4V404.9M339.60 358.0V405.7M340.15 357.3V405.8M340.70 353.0V404.6M341.25 354.6V406.2M341.80 353.4V406.6M342.35 352.8V405.1M342.90 350.9V402.7M343.45 349.0V406.4M344.00 350.3V407.2M344.55 346.8V404.2M345.10 348.1V406.5M345.65 343.5V403.5M346.20 346.4V406.4M346.75 342.4V408.7M347.30 344.8V407.5M347.85 345.8V405.0M348.40 344.3V404.6M348.95 344.7V406.1M349.50 345.5V404.5M350.05 342.4V406.0M350.60 341.3V406.2M351.15 346.2V408.6M351.70 342.0V408.5M352.25 342.2V405.5M352.80 344.2V405.9" stroke="#87501e" stroke-width="0.9" fill="none"/>
<path d="M202.20 344.6V338.3M202.80 340.4V329.4M203.40 338.9V337.0M204.60 338.7V335.5M206.40 338.4V334.1M210.00 337.8V335.5M211.80 337.5V331.7M212.40 337.4V333.2M213.60 337.2V329.7M214.20 337.1V335.4M217.20 336.3V334.3M219.00 335.7V332.0M220.80 335.1V332.9M222.00 335.4V333.3M222.60 335.6V333.4M223.80 336.1V333.0M225.60 336.8V332.6M230.40 337.0V333.1M235.20 341.9V337.3M235.80 340.6V337.0M237.00 335.0V327.5M241.80 328.7V326.0M243.60 328.5V325.8M244.20 328.5V324.2M245.40 328.3V324.5M246.00 328.3V326.3M246.60 328.2V325.3M248.40 328.1V323.8M249.00 328.0V324.7M253.20 340.5V337.4M254.40 337.3V333.4M256.20 331.3V323.9M257.40 330.2V327.7M261.00 330.9V325.5M261.60 331.0V328.7M262.20 331.1V327.2M262.80 331.3V329.4M264.00 331.5V328.8M265.80 331.9V326.3M267.60 336.8V330.7M271.80 351.3V348.7M274.20 355.4V349.4M274.80 355.9V351.8M276.00 357.0V349.6M279.00 355.3V351.7M280.20 348.8V346.6M280.80 343.4V340.6M282.60 332.0V327.4M283.80 332.0V326.1M285.60 332.0V326.0M286.20 332.0V327.8M290.40 332.0V328.2M291.00 332.0V327.9M292.20 332.0V328.5M294.00 332.0V329.6M298.20 351.2V349.5M300.60 355.8V350.7M301.80 353.4V347.7M304.80 351.6V347.9M307.80 350.5V347.9M309.60 350.0V347.9M310.20 349.8V344.4M312.60 349.2V345.3M313.20 349.0V344.7M313.80 348.4V339.6M318.00 346.8V343.1M320.40 347.8V344.3M321.00 348.0V340.7M322.20 350.0V343.1M322.80 351.0V348.3M326.40 352.8V350.8M328.20 350.1V346.3M333.00 354.2V350.3M333.60 355.3V353.1M336.00 359.7V353.2M337.20 361.9V358.2M338.40 361.9V356.9M339.60 359.7V352.8M340.80 357.5V350.3M341.40 356.4V353.5M342.60 354.2V352.3M343.80 352.0V350.0M346.20 348.0V342.5M351.60 347.2V345.2M352.80 347.0V340.4" stroke="#6b5a24" stroke-width="0.9" fill="none"/>
<path d="M207.00 338.3V334.3M207.60 338.2V335.5M209.40 337.9V331.5M214.80 337.0V332.7M215.40 336.9V333.1M216.60 336.5V332.9M219.60 335.5V329.6M223.20 335.9V329.7M224.40 336.4V331.7M226.20 337.0V334.7M227.40 337.0V333.1M228.60 337.0V329.4M229.20 337.0V333.4M231.00 337.0V332.5M231.60 338.2V334.6M232.80 340.6V338.9M233.40 341.2V335.7M234.60 341.6V339.8M240.60 328.8V326.6M241.20 328.7V323.7M242.40 328.6V326.4M247.20 328.2V326.4M247.80 328.1V320.2M252.00 339.7V337.5M255.00 335.8V332.1M255.60 333.8V328.7M258.00 330.3V325.6M259.20 330.5V327.6M259.80 330.7V324.8M260.40 330.8V328.7M263.40 331.4V326.8M264.60 331.6V327.5M267.00 334.2V331.5M268.80 342.1V338.2M269.40 344.2V342.2M270.00 346.0V342.5M271.20 349.5V344.8M272.40 353.1V349.4M277.20 356.3V354.2M277.80 356.0V351.7M278.40 355.6V350.5M281.40 338.4V336.2M282.00 334.9V332.4M283.20 332.0V327.0M286.80 332.0V329.9M287.40 332.0V329.0M288.00 332.0V325.2M291.60 332.0V329.6M294.60 332.0V329.9M296.40 341.5V339.7M298.80 353.2V350.5M301.20 354.6V345.7M303.60 352.2V349.4M305.40 351.3V349.4M306.60 350.8V348.0M307.20 350.7V347.9M308.40 350.3V347.7M311.40 349.5V344.5M316.20 346.1V343.1M316.80 346.3V343.4M318.60 347.0V345.4M319.20 347.3V340.6M321.60 349.0V347.2M324.60 353.0V346.0M325.80 353.0V350.9M328.80 349.2V347.5M329.40 348.3V344.0M330.00 348.7V344.5M331.80 352.0V350.1M334.20 356.4V351.1M340.20 358.6V354.3M345.00 349.8V348.1M348.60 347.6V340.7M349.80 347.5V345.7M351.00 347.3V344.1M352.20 347.1V340.7" stroke="#84501c" stroke-width="0.9" fill="none"/>
<path d="M52.00 375.2V386.1M52.50 370.9V383.7M53.00 367.1V379.3M53.50 360.4V379.1M54.00 358.2V373.3M54.50 357.6V370.2M55.00 354.1V366.4M55.50 353.4V365.4M56.00 353.4V367.7M56.50 353.1V367.3M57.00 353.5V365.1M57.50 353.8V366.8M58.00 352.4V365.0M58.50 354.2V366.4M59.00 353.7V367.7M59.50 353.7V367.8M60.00 352.7V367.5M60.50 352.8V367.9M61.00 354.2V365.2M61.50 351.8V365.6M62.00 354.5V366.3M62.50 353.4V365.9M63.00 353.0V366.1M63.50 352.5V366.8M64.00 353.3V367.8M64.50 350.6V367.4M65.00 347.9V367.6M65.50 344.0V364.9M66.00 341.4V367.5M66.50 338.3V366.2M67.00 337.5V365.1M67.50 337.6V366.2M68.00 335.6V364.6M68.50 337.2V367.6M69.00 334.6V367.0M69.50 335.4V364.9M70.00 334.8V366.9M70.50 336.4V364.5M71.00 335.4V364.5M71.50 340.7V367.5M72.00 346.2V371.5M72.50 351.7V375.6M73.00 357.7V376.6M73.50 365.3V380.5M74.00 366.4V382.7M74.50 370.0V382.9M75.00 370.5V386.2M75.50 369.1V385.5M76.00 368.6V382.6M76.50 364.9V382.1M77.00 362.5V378.3M77.50 359.2V374.4M78.00 357.4V370.0M78.50 355.0V370.0M79.00 353.7V367.9M79.50 355.3V367.8M80.00 353.2V365.4M80.50 352.7V367.2M81.00 351.4V367.3M81.50 353.4V365.6M82.00 353.4V366.8M82.50 353.5V366.5M83.00 353.6V367.7M83.50 351.4V365.5M84.00 353.5V368.4M84.50 352.1V366.7M85.00 353.2V366.3M85.50 352.4V366.3M86.00 352.4V367.2M86.50 352.2V366.4M87.00 353.7V365.3M87.50 353.0V367.6M88.00 352.2V365.9M88.50 353.8V366.0M89.00 351.8V366.6M89.50 353.4V365.5M90.00 352.2V366.2M90.50 353.8V366.5M91.00 353.9V365.7M91.50 352.2V367.2M92.00 353.9V366.5M92.50 351.8V365.5M93.00 352.8V365.7M93.50 353.6V367.7M94.00 351.6V365.9M94.50 353.6V367.1M95.00 353.6V366.1M95.50 351.4V365.9M96.00 353.5V365.9M96.50 352.1V366.3M97.00 352.3V366.3M97.50 353.9V365.5M98.00 351.0V368.0M98.50 353.8V368.1M99.00 352.3V368.0M99.50 353.9V365.6M100.00 353.3V367.6M100.50 353.0V366.6M101.00 351.8V366.0M101.50 351.6V365.2M102.00 352.8V365.9M102.50 353.5V365.1M103.00 353.8V367.2M103.50 353.9V367.9M104.00 353.8V366.8M104.50 350.9V367.4M105.00 351.4V366.0M105.50 353.0V366.7M106.00 352.2V368.1M106.50 352.9V366.2M107.00 351.7V367.8M107.50 352.4V367.6M108.00 352.0V365.7M108.50 352.6V367.7M109.00 351.4V367.7M109.50 353.8V367.7M110.00 353.5V365.2M110.50 352.9V367.9M111.00 351.1V366.0M111.50 351.8V366.9M112.00 352.3V366.7M112.50 353.4V365.2M113.00 351.1V365.6M113.50 351.3V365.5M114.00 354.0V368.0M114.50 351.2V366.9M115.00 351.9V366.3M115.50 352.0V367.4M116.00 352.8V366.5M116.50 351.5V366.4M117.00 351.3V367.1M117.50 353.2V366.6M118.00 351.2V365.9M118.50 352.1V367.3M119.00 353.4V366.6M119.50 353.5V367.4M120.00 352.3V366.6M120.50 352.3V372.0M121.00 351.9V376.3M121.50 351.9V379.2M122.00 354.8V383.3M122.50 356.0V385.1M123.00 359.8V389.2M123.50 364.0V389.8M124.00 366.5V393.3M124.50 367.1V394.4M125.00 369.2V397.7M125.50 372.5V399.3M126.00 372.9V398.9M126.50 372.7V398.9M127.00 370.7V399.2M127.50 370.4V398.0M128.00 372.9V398.0M128.50 370.7V398.4M129.00 373.2V399.0M129.50 366.5V397.1M130.00 362.8V393.1M130.50 364.8V393.7M131.00 365.9V393.5M131.50 365.7V392.4M132.00 365.9V394.5M132.50 365.9V393.9M133.00 366.3V397.1M133.50 364.3V395.8M134.00 366.2V398.0M134.50 370.8V399.8M135.00 376.4V405.0M135.50 383.6V408.1M136.00 382.4V408.3M136.50 378.7V406.2M137.00 374.3V404.2M137.50 373.5V401.7M138.00 365.5V391.7M138.50 358.0V384.4M139.00 353.6V378.1M139.50 352.9V378.6M140.00 354.3V377.2M140.50 351.7V379.2M141.00 354.3V378.6M141.50 352.8V379.4M142.00 352.0V378.0M142.50 352.0V379.2M143.00 352.4V378.2M143.50 353.6V380.6M144.00 352.3V379.9M144.50 352.7V380.5M145.00 353.3V378.8M145.50 352.1V378.1M146.00 352.9V379.4M146.50 352.0V379.4M147.00 352.4V380.9M147.50 352.8V384.1M148.00 354.8V385.3M148.50 355.7V388.6M149.00 372.6V409.0M149.50 391.0V435.5M150.00 406.7V444.8M150.50 419.5V453.0M151.00 431.9V457.1M151.50 431.0V458.3M152.00 432.3V458.7M152.50 432.8V456.0M153.00 430.5V455.7M153.50 430.4V456.8M154.00 432.4V457.0M154.50 430.3V456.5M155.00 430.4V454.8M155.50 423.1V448.7M156.00 412.4V446.1M156.50 404.3V439.5M157.00 385.8V421.6M157.50 364.4V401.5M158.00 365.8V400.6M158.50 365.1V399.5M159.00 367.5V397.5M159.50 366.1V395.2M160.00 365.3V395.5M160.50 364.9V392.2M161.00 367.6V385.6M161.50 367.9V382.4M162.00 367.4V382.8M162.50 365.8V382.5M163.00 367.0V382.9M163.50 365.7V382.7M164.00 368.0V382.4M164.50 366.6V380.6M165.00 366.5V381.3M165.50 367.2V382.3M166.00 366.7V380.7M166.50 367.0V382.1M167.00 365.5V382.9M167.50 367.0V380.4M168.00 367.9V380.4M168.50 366.0V382.2M169.00 366.8V381.7M169.50 367.0V381.3M170.00 365.9V380.4M170.50 365.1V382.1M171.00 367.3V381.5M171.50 367.3V380.9M172.00 365.8V380.9M172.50 367.7V379.8M173.00 366.5V380.4M173.50 367.4V380.7M174.00 366.0V380.9M174.50 366.6V382.0M175.00 366.0V382.2M175.50 365.3V380.3M176.00 365.2V379.8M176.50 367.0V381.7M177.00 363.0V380.0M177.50 361.7V381.8M178.00 359.9V378.3M178.50 356.1V372.9M179.00 355.9V372.6M179.50 361.9V377.7M180.00 363.3V378.3M180.50 365.6V377.7M181.00 366.1V380.6M181.50 367.0V379.1M182.00 366.1V379.8M182.50 366.8V381.2M183.00 367.4V379.2M183.50 368.4V379.9M184.00 367.8V380.7M184.50 365.9V380.9M185.00 368.0V380.0M185.50 367.6V379.9M186.00 366.5V380.1M186.50 366.0V380.0M187.00 368.0V379.8M187.50 367.7V381.5M188.00 368.8V378.8M188.50 368.4V380.4M189.00 366.1V379.6M189.50 366.6V378.6M190.00 367.6V381.4M190.50 366.9V381.2M191.00 368.1V378.8M191.50 368.6V380.3M192.00 368.9V380.7M192.50 368.3V379.5M193.00 368.5V381.4M193.50 368.7V379.8M194.00 368.3V380.0M194.50 366.2V378.5M195.00 366.1V379.0M195.50 366.4V380.0M196.00 368.1V380.1M196.50 367.3V380.5M197.00 366.9V379.9M197.50 368.3V379.7M198.00 366.5V381.3M198.50 368.2V379.6M199.00 367.1V380.1M199.50 367.8V379.1M200.00 365.9V379.1M200.50 368.4V378.9M201.00 367.4V379.0M201.50 355.3V369.9M202.00 344.7V360.9M202.50 340.0V357.8M203.00 336.9V356.0M203.50 336.5V354.3M204.00 337.7V355.5M204.50 338.4V354.2M205.00 337.4V355.2M205.50 336.1V356.9M206.00 336.6V354.0M206.50 337.3V354.1M207.00 337.7V354.5M207.50 336.0V353.4M208.00 337.9V354.0M208.50 338.0V354.5M209.00 338.4V353.9M209.50 336.1V353.6M210.00 337.8V354.7M210.50 336.3V352.8M211.00 337.3V355.5M211.50 336.9V352.3M212.00 335.0V352.4M212.50 335.4V352.1M213.00 334.9V354.0M213.50 337.5V352.4M214.00 337.7V353.2M214.50 337.1V354.5M215.00 337.4V351.5M215.50 335.2V353.3M216.00 337.1V351.7M216.50 334.8V354.1M217.00 334.1V352.6M217.50 334.6V353.6M218.00 336.4V352.0M218.50 335.6V353.7M219.00 335.7V353.2M219.50 335.9V352.6M220.00 334.1V352.1M220.50 335.1V352.9M221.00 333.3V351.9M221.50 334.9V353.2M222.00 335.1V352.4M222.50 334.6V351.6M223.00 335.5V351.1M223.50 334.9V353.3M224.00 335.8V351.1M224.50 334.6V353.4M225.00 336.1V353.4M225.50 337.0V351.9M226.00 337.3V352.7M226.50 335.5V351.9M227.00 334.6V352.3M227.50 337.5V351.6M228.00 336.2V352.0M228.50 334.7V354.0M229.00 335.2V352.4M229.50 334.9V354.6M230.00 336.3V352.8M230.50 335.1V356.2M231.00 335.1V355.2M231.50 336.7V357.1M232.00 338.3V358.4M232.50 339.1V357.8M233.00 339.0V358.7M233.50 341.2V359.2M234.00 338.9V362.3M234.50 339.6V362.5M235.00 339.5V361.5M235.50 340.1V363.1M236.00 339.0V360.5M236.50 337.2V359.2M237.00 333.5V356.3M237.50 331.8V352.8M238.00 331.1V352.3M238.50 329.0V349.1M239.00 328.1V350.0M239.50 328.6V348.8M240.00 327.4V350.2M240.50 326.4V350.5M241.00 328.5V350.2M241.50 328.2V350.9M242.00 326.8V350.2M242.50 329.2V350.2M243.00 327.4V349.5M243.50 326.6V349.9M244.00 328.9V351.8M244.50 328.6V352.7M245.00 327.7V352.6M245.50 327.4V351.1M246.00 328.7V352.7M246.50 328.7V351.5M247.00 328.1V351.3M247.50 328.7V353.1M248.00 326.4V353.2M248.50 326.0V350.6M249.00 327.7V351.3M249.50 330.0V355.1M250.00 331.4V358.1M250.50 335.1V359.7M251.00 336.9V362.2M251.50 338.8V361.4M252.00 337.4V362.1M252.50 339.1V362.0M253.00 338.9V364.8M253.50 339.3V364.2M254.00 338.9V362.6M254.50 335.7V359.0M255.00 334.2V358.7M255.50 333.2V357.0M256.00 330.6V355.0M256.50 328.3V350.9M257.00 330.3V352.0M257.50 328.6V350.2M258.00 330.3V349.4M258.50 328.2V351.1M259.00 329.6V349.9M259.50 328.2V350.1M260.00 330.6V350.9M260.50 331.3V351.9M261.00 331.4V349.5M261.50 329.0V349.4M262.00 329.9V350.5M262.50 328.8V351.1M263.00 329.0V350.4M263.50 329.6V352.0M264.00 330.2V350.2M264.50 329.1V350.8M265.00 331.1V351.6M265.50 332.1V352.0M266.00 330.1V349.8M266.50 331.8V351.9M267.00 333.2V353.1M267.50 335.6V352.3M268.00 336.5V352.5M268.50 340.3V356.3M269.00 343.3V355.9M269.50 344.0V359.0M270.00 346.0V359.6M270.50 346.2V360.9M271.00 346.9V361.5M271.50 350.0V365.7M272.00 351.1V365.4M272.50 351.9V367.2M273.00 354.2V368.3M273.50 355.2V368.1M274.00 353.6V370.0M274.50 354.4V371.9M275.00 356.1V372.9M275.50 355.9V370.7M276.00 356.2V373.2M276.50 355.7V372.2M277.00 356.1V374.0M277.50 353.9V373.1M278.00 354.4V372.5M278.50 355.8V373.8M279.00 354.7V371.2M279.50 355.3V371.0M280.00 349.2V368.6M280.50 344.5V362.4M281.00 342.1V360.1M281.50 336.2V355.0M282.00 333.2V352.5M282.50 330.2V353.5M283.00 329.7V351.2M283.50 330.0V350.7M284.00 331.1V352.9M284.50 332.1V352.6M285.00 332.0V350.6M285.50 330.3V353.7M286.00 329.6V351.5M286.50 330.9V351.6M287.00 331.1V350.9M287.50 330.2V353.9M288.00 329.9V353.7M288.50 330.0V354.1M289.00 331.6V353.0M289.50 329.9V351.1M290.00 331.8V351.6M290.50 330.0V353.7M291.00 332.2V351.2M291.50 332.5V352.8M292.00 330.6V351.5M292.50 330.6V354.4M293.00 330.3V351.7M293.50 329.9V351.7M294.00 330.5V354.2M294.50 329.6V352.0M295.00 332.4V354.6M295.50 335.9V354.8M296.00 337.3V359.6M296.50 341.2V361.5M297.00 344.0V361.9M297.50 347.5V366.8M298.00 350.5V367.6M298.50 351.1V368.9M299.00 352.6V370.3M299.50 355.5V370.6M300.00 356.3V374.4M300.50 356.1V371.5M301.00 355.5V373.1M301.50 351.9V370.8M302.00 351.0V369.6M302.50 353.3V370.5M303.00 352.7V369.3M303.50 349.7V371.4M304.00 351.9V371.6M304.50 351.3V369.8M305.00 351.4V368.2M305.50 350.4V369.1M306.00 348.9V369.3M306.50 349.3V369.0M307.00 349.3V368.4M307.50 349.1V369.3M308.00 351.0V370.4M308.50 350.5V370.1M309.00 348.5V370.5M309.50 348.3V367.8M310.00 348.9V369.7M310.50 348.2V369.5M311.00 347.9V370.5M311.50 348.3V368.9M312.00 348.4V370.2M312.50 349.8V369.1M313.00 347.9V369.4M313.50 346.3V368.7M314.00 348.3V369.6M314.50 345.2V369.7M315.00 345.7V369.9M315.50 345.1V367.3M316.00 345.2V369.2M316.50 345.0V369.2M317.00 346.1V367.6M317.50 345.0V368.0M318.00 345.5V367.6M318.50 346.5V369.2M319.00 346.5V366.9M319.50 345.5V367.6M320.00 347.0V366.8M320.50 345.5V367.4M321.00 346.3V366.5M321.50 348.0V370.0M322.00 348.8V370.1M322.50 350.6V371.1M323.00 351.7V370.5M323.50 351.8V370.1M324.00 353.2V371.6M324.50 351.9V378.5M325.00 351.3V381.4M325.50 353.0V388.0M326.00 350.7V391.4M326.50 351.2V394.5M327.00 352.0V395.4M327.50 349.5V396.4M328.00 349.5V396.8M328.50 349.1V397.8M329.00 347.7V396.3M329.50 348.7V398.6M330.00 346.4V397.8M330.50 349.4V399.6M331.00 348.2V396.4M331.50 350.4V397.8M332.00 352.6V399.0M332.50 351.7V397.7M333.00 353.4V399.2M333.50 353.1V397.7M334.00 353.7V398.5M334.50 354.4V399.5M335.00 356.9V398.5M335.50 356.4V397.5M336.00 358.6V399.7M336.50 359.7V398.0M337.00 362.1V399.3M337.50 361.5V398.0M338.00 361.0V400.3M338.50 359.5V399.2M339.00 360.2V398.8M339.50 359.7V400.7M340.00 359.1V400.2M340.50 356.1V398.1M341.00 355.9V399.1M341.50 354.2V400.9M342.00 353.4V400.9M342.50 354.8V398.7M343.00 353.8V399.8M343.50 350.6V399.2M344.00 349.2V400.4M344.50 349.4V401.7M345.00 349.9V399.3M345.50 347.6V400.5M346.00 346.0V400.2M346.50 346.2V401.7M347.00 346.3V399.9M347.50 345.9V401.0M348.00 346.9V400.5M348.50 347.3V400.4M349.00 347.1V401.8M349.50 345.5V402.3M350.00 346.1V401.7M350.50 346.7V402.1M351.00 346.1V400.3M351.50 347.1V402.9M352.00 346.1V402.1M352.50 345.3V403.2M353.00 346.6V401.1" stroke="#f20000" stroke-width="0.8" fill="none"/>
<polyline points="52,386 53,378 54,360 55,346" fill="none" stroke="#8a4a1c" stroke-width="1.6"/>
<polyline points="120.5,347 122,356 124,372 126,392 127,398" fill="none" stroke="#8a4a1c" stroke-width="1.6"/>
<polyline points="133.5,396 135.7,413 137.5,400" fill="none" stroke="#8a4a1c" stroke-width="1.6"/>
<polyline points="271,350 274,356 277,369 279.7,360" fill="none" stroke="#8a4a1c" stroke-width="1.6"/>
<polyline points="298,356 301,369 303.5,362" fill="none" stroke="#8a4a1c" stroke-width="1.6"/>
<polyline points="150.2,458 152,446 154,436 157,432" fill="none" stroke="#8a4a1c" stroke-width="1.6"/>
<line x1="149.4" y1="385" x2="149.4" y2="436" stroke="#b09070" stroke-width="1.1"/>
<line x1="155.8" y1="349" x2="155.8" y2="405" stroke="#8a5a22" stroke-width="1.1"/>
<line x1="178.3" y1="336" x2="178.3" y2="360" stroke="#8a5a22" stroke-width="1.1"/>
<line x1="202.6" y1="325" x2="202.6" y2="360" stroke="#b09070" stroke-width="1.1"/>
<line x1="209.2" y1="328" x2="209.2" y2="356" stroke="#8a5a22" stroke-width="1.1"/>
<line x1="302.2" y1="311.5" x2="302.2" y2="352" stroke="#c0a890" stroke-width="1.1"/>
<line x1="79.5" y1="335" x2="79.5" y2="352" stroke="#8a5a22" stroke-width="1.1"/>
<line x1="157.5" y1="420" x2="157.5" y2="462" stroke="#111" stroke-width="1.1"/>
<line x1="326.3" y1="384" x2="326.3" y2="406" stroke="#7a4a1a" stroke-width="1.1"/>
<text x="135.5" y="321.4" font-size="12" fill="#7b5a2e" stroke="#7b5a2e" stroke-width="0.32">Reservoir</text>
<line x1="129.7" y1="319.2" x2="102.5" y2="335.1" stroke="#222" stroke-width="1.0"/>
<polygon points="98.6,337.4 102.2,332.7 102.3,335.2 104.5,336.5" fill="#222"/>
<line x1="186.2" y1="318.8" x2="211.5" y2="326.0" stroke="#222" stroke-width="1.0"/>
<polygon points="215.8,327.2 209.9,327.8 211.7,326.0 211.1,323.6" fill="#222"/>
<text x="73.5" y="438" font-size="11.8" fill="#222" stroke="#222" stroke-width="0.32">Cell</text>
<line x1="86.9" y1="421.7" x2="96.4" y2="400.7" stroke="#222" stroke-width="1.0"/>
<polygon points="98.3,396.6 98.0,402.5 96.5,400.5 94.0,400.7" fill="#222"/>
<text x="196" y="478" font-size="11.5" fill="#222" stroke="#222" stroke-width="0.32">Room</text>
<line x1="216.4" y1="466.0" x2="226.4" y2="445.2" stroke="#222" stroke-width="1.0"/>
<polygon points="228.3,441.1 227.9,447.0 226.4,445.0 223.9,445.1" fill="#222"/>
<rect x="51.5" y="288.5" width="302.0" height="221.60000000000002" fill="none" stroke="#333" stroke-width="1.1"/>
<line x1="47.5" y1="510.10" x2="51.5" y2="510.10" stroke="#333" stroke-width="1.1"/>
<text x="44.0" y="513.80" text-anchor="end" font-size="11" fill="#222" stroke="#222" stroke-width="0.32">20.0</text>
<line x1="49.5" y1="496.25" x2="51.5" y2="496.25" stroke="#333" stroke-width="1.1"/>
<line x1="47.5" y1="482.40" x2="51.5" y2="482.40" stroke="#333" stroke-width="1.1"/>
<text x="44.0" y="486.10" text-anchor="end" font-size="11" fill="#222" stroke="#222" stroke-width="0.32">20.5</text>
<line x1="49.5" y1="468.55" x2="51.5" y2="468.55" stroke="#333" stroke-width="1.1"/>
<line x1="47.5" y1="454.70" x2="51.5" y2="454.70" stroke="#333" stroke-width="1.1"/>
<text x="44.0" y="458.40" text-anchor="end" font-size="11" fill="#222" stroke="#222" stroke-width="0.32">21.0</text>
<line x1="49.5" y1="440.85" x2="51.5" y2="440.85" stroke="#333" stroke-width="1.1"/>
<line x1="47.5" y1="427.00" x2="51.5" y2="427.00" stroke="#333" stroke-width="1.1"/>
<text x="44.0" y="430.70" text-anchor="end" font-size="11" fill="#222" stroke="#222" stroke-width="0.32">21.5</text>
<line x1="49.5" y1="413.15" x2="51.5" y2="413.15" stroke="#333" stroke-width="1.1"/>
<line x1="47.5" y1="399.30" x2="51.5" y2="399.30" stroke="#333" stroke-width="1.1"/>
<text x="44.0" y="403.00" text-anchor="end" font-size="11" fill="#222" stroke="#222" stroke-width="0.32">22.0</text>
<line x1="49.5" y1="385.45" x2="51.5" y2="385.45" stroke="#333" stroke-width="1.1"/>
<line x1="47.5" y1="371.60" x2="51.5" y2="371.60" stroke="#333" stroke-width="1.1"/>
<text x="44.0" y="375.30" text-anchor="end" font-size="11" fill="#222" stroke="#222" stroke-width="0.32">22.5</text>
<line x1="49.5" y1="357.75" x2="51.5" y2="357.75" stroke="#333" stroke-width="1.1"/>
<line x1="47.5" y1="343.90" x2="51.5" y2="343.90" stroke="#333" stroke-width="1.1"/>
<text x="44.0" y="347.60" text-anchor="end" font-size="11" fill="#222" stroke="#222" stroke-width="0.32">23.0</text>
<line x1="49.5" y1="330.05" x2="51.5" y2="330.05" stroke="#333" stroke-width="1.1"/>
<line x1="47.5" y1="316.20" x2="51.5" y2="316.20" stroke="#333" stroke-width="1.1"/>
<text x="44.0" y="319.90" text-anchor="end" font-size="11" fill="#222" stroke="#222" stroke-width="0.32">23.5</text>
<line x1="49.5" y1="302.35" x2="51.5" y2="302.35" stroke="#333" stroke-width="1.1"/>
<line x1="47.5" y1="288.50" x2="51.5" y2="288.50" stroke="#333" stroke-width="1.1"/>
<text x="44.0" y="292.20" text-anchor="end" font-size="11" fill="#222" stroke="#222" stroke-width="0.32">24.0</text>
<line x1="51.50" y1="510.1" x2="51.50" y2="514.1" stroke="#333" stroke-width="1.1"/>
<text x="51.50" y="526.1" text-anchor="middle" font-size="11" fill="#222" stroke="#222" stroke-width="0.32">0</text>
<line x1="76.67" y1="510.1" x2="76.67" y2="512.1" stroke="#333" stroke-width="1.1"/>
<line x1="101.83" y1="510.1" x2="101.83" y2="514.1" stroke="#333" stroke-width="1.1"/>
<text x="101.83" y="526.1" text-anchor="middle" font-size="11" fill="#222" stroke="#222" stroke-width="0.32">2</text>
<line x1="127.00" y1="510.1" x2="127.00" y2="512.1" stroke="#333" stroke-width="1.1"/>
<line x1="152.17" y1="510.1" x2="152.17" y2="514.1" stroke="#333" stroke-width="1.1"/>
<text x="152.17" y="526.1" text-anchor="middle" font-size="11" fill="#222" stroke="#222" stroke-width="0.32">4</text>
<line x1="177.33" y1="510.1" x2="177.33" y2="512.1" stroke="#333" stroke-width="1.1"/>
<line x1="202.50" y1="510.1" x2="202.50" y2="514.1" stroke="#333" stroke-width="1.1"/>
<text x="202.50" y="526.1" text-anchor="middle" font-size="11" fill="#222" stroke="#222" stroke-width="0.32">6</text>
<line x1="227.67" y1="510.1" x2="227.67" y2="512.1" stroke="#333" stroke-width="1.1"/>
<line x1="252.83" y1="510.1" x2="252.83" y2="514.1" stroke="#333" stroke-width="1.1"/>
<text x="252.83" y="526.1" text-anchor="middle" font-size="11" fill="#222" stroke="#222" stroke-width="0.32">8</text>
<line x1="278.00" y1="510.1" x2="278.00" y2="512.1" stroke="#333" stroke-width="1.1"/>
<line x1="303.17" y1="510.1" x2="303.17" y2="514.1" stroke="#333" stroke-width="1.1"/>
<text x="303.17" y="526.1" text-anchor="middle" font-size="11" fill="#222" stroke="#222" stroke-width="0.32">10</text>
<line x1="328.33" y1="510.1" x2="328.33" y2="512.1" stroke="#333" stroke-width="1.1"/>
<line x1="353.50" y1="510.1" x2="353.50" y2="514.1" stroke="#333" stroke-width="1.1"/>
<text x="353.50" y="526.1" text-anchor="middle" font-size="11" fill="#222" stroke="#222" stroke-width="0.32">12</text>
<text x="203.50" y="541.6" text-anchor="middle" font-size="12" fill="#222" stroke="#222" stroke-width="0.32">Time (d)</text>
<text transform="translate(18,399) rotate(-90)" text-anchor="middle" font-size="12" fill="#222" stroke="#222" stroke-width="0.32">T (°C)</text>
<text x="7" y="292.6" font-size="12.5" fill="#222" stroke="#222" stroke-width="0.32">(b)</text>
</svg></body></html>
